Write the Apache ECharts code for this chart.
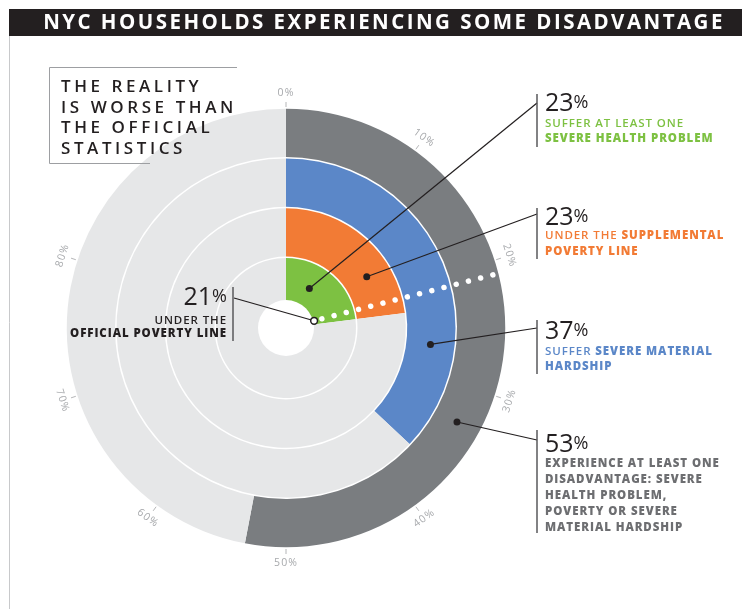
<!DOCTYPE html>
<html>
<head>
<meta charset="utf-8">
<script src="https://cdn.jsdelivr.net/npm/echarts@6/dist/echarts.min.js"></script>
<style>
  html, body { margin: 0; padding: 0; background: #fff; }
  #chart { width: 742px; height: 609px; }
</style>
</head>
<body>
<div id="chart"></div>
<script>
// Share of NYC households, in percent, for each ring (inner to outer)
const rings = ['Severe health problem', 'Under supplemental poverty line', 'Severe material hardship', 'At least one disadvantage'];
const ringValues = [23, 23, 37, 53];
const officialPovertyValue = 21;

// Scale around the circle
const tickValues = [0, 10, 20, 30, 40, 50, 60, 70, 80];
const tickLabels = ['0%', '10%', '20%', '30%', '40%', '50%', '60%', '70%', '80%'];

// Styling and placement
const ringColors = ['#7dc142', '#f27b35', '#5b87c8', '#7a7d80'];
const restColor = '#e6e7e8';
const ink = '#231f20';
const leaderAngles = [8.5, 16, 26.8, 33];      // where each leader leaves its ring (percent around)
const calloutX = 537;
const calloutY = [103, 214, 328, 440];

// Tracked (letter-spaced) lettering for canvas text; a "trkNN" token in the
// font list sets tracking to NN hundredths of an em (default 6).
(function () {
  const proto = CanvasRenderingContext2D.prototype;
  const desc = Object.getOwnPropertyDescriptor(proto, 'font');
  if (!desc || !('letterSpacing' in proto)) return;
  Object.defineProperty(proto, 'font', {
    configurable: true,
    get: function () { return desc.get.call(this); },
    set: function (v) {
      desc.set.call(this, v);
      const m = /(\d+(?:\.\d+)?)px/.exec(v);
      const size = m ? parseFloat(m[1]) : 12;
      const t = /trk(\d+)/.exec(v);
      const k = t ? parseInt(t[1], 10) / 100 : 0.06;
      this.letterSpacing = (size * k).toFixed(2) + 'px';
    }
  });
})();

const chart = echarts.init(document.getElementById('chart'), null, { renderer: 'canvas' });

const FONT = '"Open Sans", "Noto Sans", sans-serif';

function pointAt(coordSys, api, value, radius) {
  // direction from the polar scale, distance chosen by caller
  const p = api.coord([0, value]);
  const dx = p[0] - coordSys.cx, dy = p[1] - coordSys.cy;
  const len = Math.sqrt(dx * dx + dy * dy) || 1;
  return [coordSys.cx + dx / len * radius, coordSys.cy + dy / len * radius];
}

const decorSeries = {
  type: 'custom',
  coordinateSystem: 'polar',
  z: 5,
  silent: true,
  data: [[0, officialPovertyValue]],
  renderItem: function (params, api) {
    const cs = params.coordSys;
    const children = [];
    // centre hole
    children.push({ type: 'circle', shape: { cx: cs.cx, cy: cs.cy, r: 28 }, style: { fill: '#fff' } });
    // dotted official poverty line
    const a = pointAt(cs, api, officialPovertyValue, 37);
    const b = pointAt(cs, api, officialPovertyValue, cs.r);
    children.push({
      type: 'line', shape: { x1: a[0], y1: a[1], x2: b[0], y2: b[1] },
      style: { stroke: '#fff', lineWidth: 5.5, lineCap: 'round', lineDash: [0.01, 12.6] }
    });
    // ticks and their labels
    tickValues.forEach(function (v, i) {
      const t0 = pointAt(cs, api, v, cs.r + 1);
      const t1 = pointAt(cs, api, v, cs.r + 6);
      children.push({ type: 'line', shape: { x1: t0[0], y1: t0[1], x2: t1[0], y2: t1[1] }, style: { stroke: '#b5b6b8', lineWidth: 1 } });
      const lp = pointAt(cs, api, v, cs.r + 15);
      let deg = v / 100 * 360;
      if (deg > 90 && deg < 270) deg -= 180;
      children.push({
        type: 'text', x: lp[0], y: lp[1], rotation: -deg * Math.PI / 180,
        style: { text: tickLabels[i], fill: '#a7a9ac', font: '10.5px trk10, ' + FONT, align: 'center', verticalAlign: 'middle' }
      });
    });
    // official line callout
    const d = pointAt(cs, api, officialPovertyValue, 29);
    children.push({ type: 'line', shape: { x1: d[0], y1: d[1], x2: 234, y2: 298 }, style: { stroke: ink, lineWidth: 1.2 } });
    children.push({ type: 'circle', shape: { cx: d[0], cy: d[1], r: 3.4 }, style: { fill: '#fff', stroke: ink, lineWidth: 1.5 } });
    return { type: 'group', children: children };
  }
};

const leaderSeries = {
  type: 'custom',
  coordinateSystem: 'polar',
  z: 6,
  silent: true,
  data: ringValues.map(function (v, i) { return [i, leaderAngles[i]]; }),
  renderItem: function (params, api) {
    const i = params.dataIndex;
    const p = api.coord([api.value(0), api.value(1)]);
    return {
      type: 'group',
      children: [
        { type: 'line', shape: { x1: p[0], y1: p[1], x2: calloutX, y2: calloutY[i] }, style: { stroke: ink, lineWidth: 1.2 } },
        { type: 'circle', shape: { cx: p[0], cy: p[1], r: 3.5 }, style: { fill: ink } }
      ]
    };
  }
};

function numberText(x, y, value, align) {
  return {
    type: 'text', x: x, y: y, z: 10,
    style: {
      text: '{n|' + value + '}{p|%}', align: align || 'left', verticalAlign: 'middle',
      rich: {
        n: { font: '500 25px trk0, ' + FONT, fill: ink },
        p: { font: '500 18px trk0, ' + FONT, fill: ink, padding: [0, 0, 3, 0] }
      }
    }
  };
}
function richLine(x, y, text, color, align) {
  return {
    type: 'text', x: x, y: y, z: 10,
    style: {
      text: text, align: align || 'left', verticalAlign: 'middle',
      rich: {
        r: { font: '600 11.5px trk8, ' + FONT, fill: color },
        b: { font: '800 11.5px trk8, ' + FONT, fill: color }
      }
    }
  };
}
function bar(x, y1, y2) {
  return { type: 'line', z: 10, shape: { x1: x, y1: y1, x2: x, y2: y2 }, style: { stroke: '#58595b', lineWidth: 1.5 } };
}

const tx = 545;
const graphics = [
  // title band
  { type: 'rect', z: 10, shape: { x: 9, y: 9, width: 733, height: 27 }, style: { fill: ink } },
  { type: 'text', z: 11, x: 384, y: 23, style: { text: 'NYC HOUSEHOLDS EXPERIENCING SOME DISADVANTAGE', fill: '#fff', font: '700 20.5px trk12, ' + FONT, align: 'center', verticalAlign: 'middle' } },
  // page frame
  { type: 'line', z: 10, shape: { x1: 9.5, y1: 36, x2: 9.5, y2: 609 }, style: { stroke: '#c8c9cb', lineWidth: 1 } },
  // statement box
  { type: 'polyline', z: 10, shape: { points: [[237, 67.5], [49.5, 67.5], [49.5, 163.5], [150, 163.5]] }, style: { stroke: '#9d9fa2', lineWidth: 1, fill: null } },
  { type: 'text', z: 10, x: 61, y: 77, style: { text: 'THE REALITY\nIS WORSE THAN\nTHE OFFICIAL\nSTATISTICS', fill: ink, font: '600 17px trk21, ' + FONT, lineHeight: 20.6, align: 'left', verticalAlign: 'top' } },

  // severe health problem
  bar(calloutX, 94, 147),
  numberText(tx, 104, ringValues[0]),
  richLine(tx, 124, '{r|SUFFER AT LEAST ONE}', ringColors[0]),
  richLine(tx, 139, '{b|SEVERE HEALTH PROBLEM}', ringColors[0]),

  // supplemental poverty line
  bar(calloutX, 208, 259),
  numberText(tx, 218, ringValues[1]),
  richLine(tx, 236, '{r|UNDER THE }{b|SUPPLEMENTAL}', ringColors[1]),
  richLine(tx, 252, '{b|POVERTY LINE}', ringColors[1]),

  // severe material hardship
  bar(calloutX, 320, 374),
  numberText(tx, 332, ringValues[2]),
  richLine(tx, 352, '{r|SUFFER }{b|SEVERE MATERIAL}', ringColors[2]),
  richLine(tx, 367, '{b|HARDSHIP}', ringColors[2]),

  // at least one disadvantage
  bar(calloutX, 430, 533),
  numberText(tx, 445, ringValues[3]),
  richLine(tx, 464, '{b|EXPERIENCE AT LEAST ONE}', '#6d6e71'),
  richLine(tx, 480, '{b|DISADVANTAGE: SEVERE}', '#6d6e71'),
  richLine(tx, 496, '{b|HEALTH PROBLEM,}', '#6d6e71'),
  richLine(tx, 512, '{b|POVERTY OR SEVERE}', '#6d6e71'),
  richLine(tx, 528, '{b|MATERIAL HARDSHIP}', '#6d6e71'),

  // official poverty line
  bar(233, 287, 341),
  numberText(227, 298, officialPovertyValue, 'right'),
  richLine(227, 321, '{r|UNDER THE}', ink, 'right'),
  richLine(227, 334, '{b|OFFICIAL POVERTY LINE}', ink, 'right')
];

chart.setOption({
  backgroundColor: '#fff',
  animation: false,
  polar: { center: [286, 328], radius: [21, 220] },
  angleAxis: {
    type: 'value', min: 0, max: 100, startAngle: 90, clockwise: true,
    axisLine: { show: false }, axisTick: { show: false }, axisLabel: { show: false }, splitLine: { show: false }
  },
  radiusAxis: {
    type: 'category', data: rings,
    axisLine: { show: false }, axisTick: { show: false }, axisLabel: { show: false }, splitLine: { show: false }
  },
  series: [
    {
      type: 'bar', coordinateSystem: 'polar', stack: 'share', barCategoryGap: '3%', silent: true,
      data: ringValues.map(function (v, i) { return { value: v, itemStyle: { color: ringColors[i] } }; })
    },
    {
      type: 'bar', coordinateSystem: 'polar', stack: 'share', barCategoryGap: '3%', silent: true,
      itemStyle: { color: restColor },
      data: ringValues.map(function (v) { return 100 - v; })
    },
    decorSeries,
    leaderSeries
  ],
  graphic: { elements: graphics }
});
</script>
</body>
</html>
